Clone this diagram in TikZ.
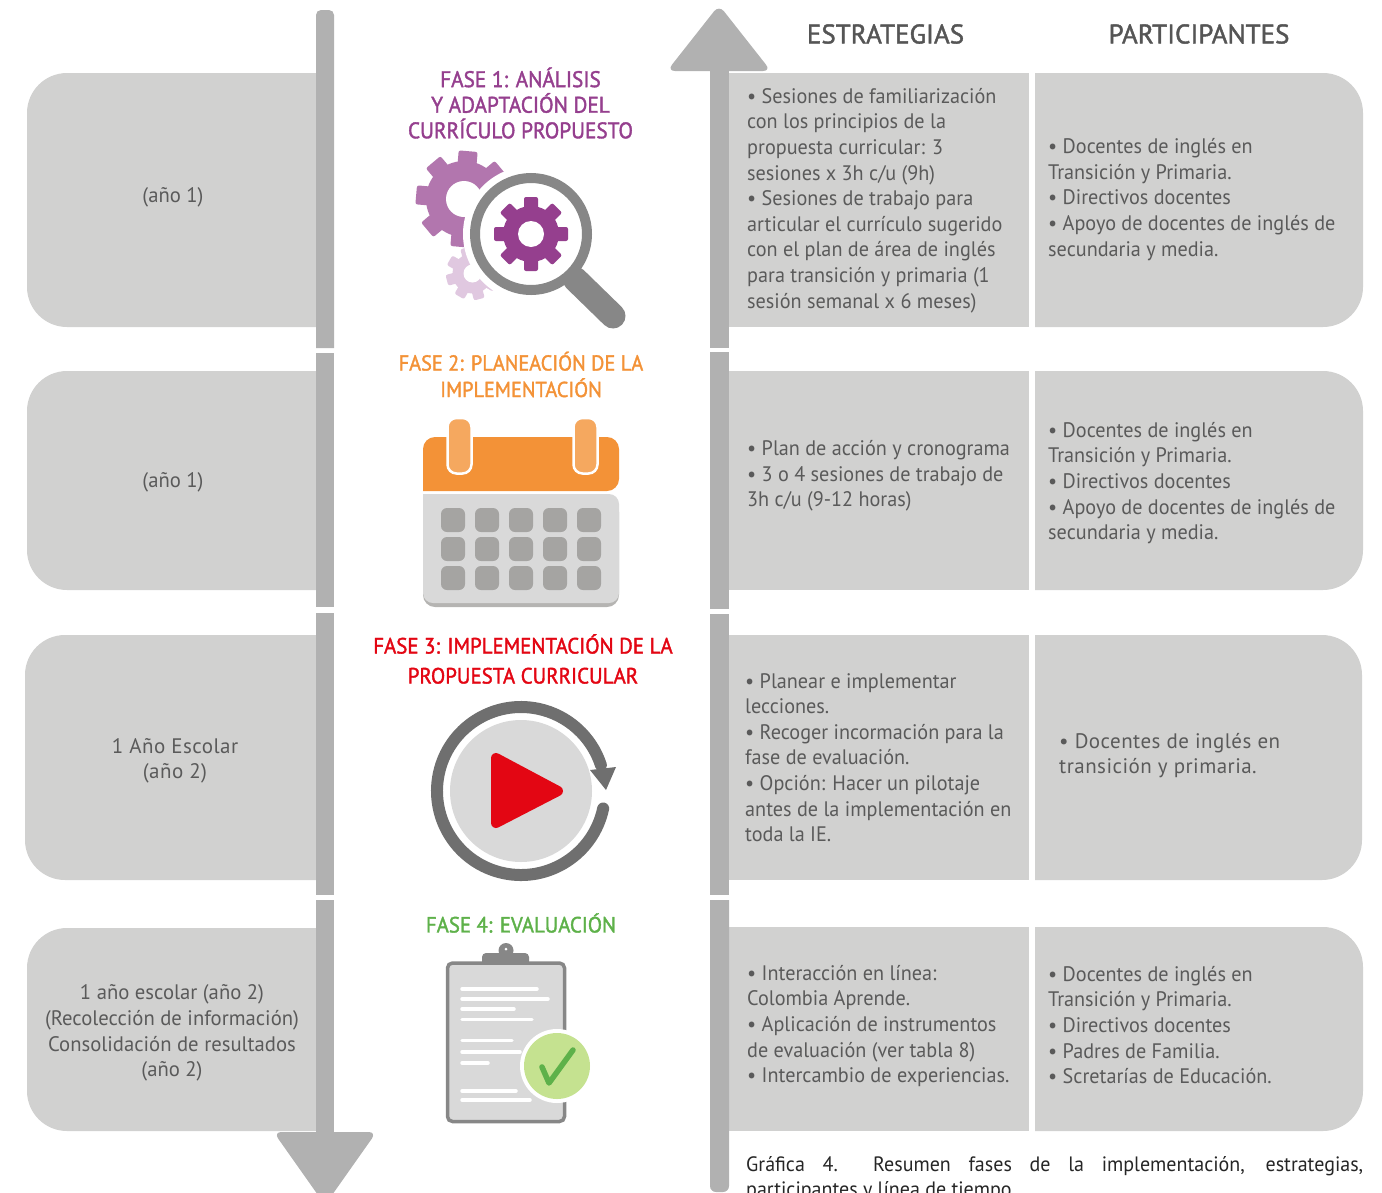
\documentclass[tikz,border=0pt]{standalone}
\usepackage{fontspec}
\setmainfont[FakeStretch=0.962]{PT Sans}
\newfontfamily\labelfont[FakeStretch=0.985]{PT Sans}
\newfontfamily\spacedfont[LetterSpace=2.2]{PT Sans}
\newfontfamily\phasefont[FakeStretch=0.94,FakeBold=1.6]{PT Sans}
\newfontfamily\headfont[FakeBold=1.6]{PT Sans}
\definecolor{boxgray}{HTML}{D1D1D0}
\definecolor{bargray}{HTML}{B1B1B1}
\definecolor{txtgray}{HTML}{5A5A5A}
\definecolor{headgray}{HTML}{555555}
\definecolor{purpleA}{HTML}{953F8E}
\definecolor{purpleB}{HTML}{B276AE}
\definecolor{purpleC}{HTML}{E0C8E0}
\definecolor{orangeA}{HTML}{F39237}
\definecolor{orangeB}{HTML}{F5A85F}
\definecolor{redA}{HTML}{E30613}
\definecolor{greenA}{HTML}{5EB14A}
\definecolor{greenB}{HTML}{C5E290}
\definecolor{iconlight}{HTML}{D9D9D9}
\definecolor{icondark}{HTML}{878787}
\definecolor{ringdark}{HTML}{6F6F6F}
\definecolor{cellgray}{HTML}{A5A4A2}
\tikzset{
  body/.style={text=txtgray,font=\fontsize{21}{25.6}\selectfont,align=left,anchor=west,inner sep=0pt},
  labeltext/.style={text=txtgray,font=\labelfont\fontsize{21}{25.6}\selectfont,align=center,inner sep=0pt},
  phase/.style={align=center,inner sep=0pt},
  colhead/.style={text=headgray,font=\headfont\fontsize{27}{30}\selectfont,inner sep=0pt},
  cornerbox/.style={fill=boxgray},
}
\newcommand{\gearicon}[8]{% cx cy body tip toothw hole colour rot
  \fill[#7] (#1,#2) circle[radius=#3];
  \foreach \ga in {0,45,...,315}{
    \fill[#7,rounded corners=2pt,rotate around={\ga+#8:(#1,#2)}]
      ({#1-#5/2},#2) -- ({#1-#5/2},{#2-#4}) -- ({#1+#5/2},{#2-#4}) -- ({#1+#5/2},#2) -- cycle;
  }
  \fill[white] (#1,#2) circle[radius=#6];
}
\begin{document}
\begin{tikzpicture}[x=1pt,y=-1pt]
\useasboundingbox (0,0) rectangle (1382,1192);
% left boxes
\fill[cornerbox] (320,73) [rounded corners=40pt] -- (27,73) -- (27,327) [sharp corners] -- (320,327) -- cycle;
\fill[cornerbox] (320,371) [rounded corners=40pt] -- (27,371) -- (27,590) [sharp corners] -- (320,590) -- cycle;
\fill[cornerbox] (320,635) [rounded corners=40pt] -- (25,635) -- (25,880) [sharp corners] -- (320,880) -- cycle;
\fill[cornerbox] (320,928) [rounded corners=40pt] -- (27,928) -- (27,1131) [sharp corners] -- (320,1131) -- cycle;
% strategy boxes
\fill[cornerbox] (725,73) rectangle (1029,327);
\fill[cornerbox] (725,371) rectangle (1029,590);
\fill[cornerbox] (725,635) rectangle (1029,880);
\fill[cornerbox] (725,927) rectangle (1029,1131);
% participant boxes
\fill[cornerbox] (1035,73) [rounded corners=40pt] -- (1363,73) -- (1363,327) [sharp corners] -- (1035,327) -- cycle;
\fill[cornerbox] (1035,371) [rounded corners=40pt] -- (1363,371) -- (1363,590) [sharp corners] -- (1035,590) -- cycle;
\fill[cornerbox] (1035,635) [rounded corners=40pt] -- (1362,635) -- (1362,880) [sharp corners] -- (1035,880) -- cycle;
\fill[cornerbox] (1035,927) [rounded corners=40pt] -- (1363,927) -- (1363,1131) [sharp corners] -- (1035,1131) -- cycle;
% left bar
\fill[bargray,rounded corners=5pt] (316,20) -- (316,10) -- (334,10) -- (334,20) [sharp corners] -- (334,348) -- (316,348) -- cycle;
\fill[bargray] (316,353) rectangle (334,607);
\fill[bargray] (316,613) rectangle (334,895);
\fill[bargray] (316,900) rectangle (334,1140);
\fill[bargray,rounded corners=8pt] (273.5,1132) -- (376.5,1132) -- (325,1205) -- cycle;
% right bar
\fill[bargray,rounded corners=8pt] (719,5) -- (771,71) -- (667,71) -- cycle;
\fill[bargray] (710,65) rectangle (729,348);
\fill[bargray] (710,352) rectangle (729,609);
\fill[bargray] (710,614) rectangle (729,895);
\fill[bargray,rounded corners=6pt] (710,900) -- (710,1192) -- (729,1192) [sharp corners] -- (729,900) -- cycle;
% column headers
\node[colhead] (h1) at (885.5,34) {ESTRATEGIAS};
\node[colhead] (h2) at (1199,34) {PARTICIPANTES};
% left labels
\node[labeltext] (l1) at (173,197) {(año 1)};
\node[labeltext] (l2) at (173,482) {(año 1)};
\node[labeltext,font=\spacedfont\fontsize{21}{25.6}\selectfont] (l3) at (175,761) {1 Año Escolar\\(año 2)};
\node[labeltext] (l4) at (172,1033) {1 año escolar (año 2)\\(Recolección de información)\\Consolidación de resultados\\(año 2)};
% phase titles
\node[phase,text=purpleA,font=\phasefont\fontsize{22.6}{25.6}\selectfont] (p1) at (520.5,103) {FASE 1: ANÁLISIS\\Y ADAPTACIÓN DEL\\CURRÍCULO PROPUESTO};
\node[phase,text=orangeA,font=\phasefont\fontsize{21.6}{26.5}\selectfont] (p2) at (521,374.5) {FASE 2: PLANEACIÓN DE LA\\IMPLEMENTACIÓN};
\node[phase,text=redA,font=\phasefont\fontsize{22.2}{30}\selectfont] (p3) at (523,659) {FASE 3: IMPLEMENTACIÓN DE LA\\PROPUESTA CURRICULAR};
\node[phase,text=greenA,font=\phasefont\fontsize{22.1}{26}\selectfont] (p4) at (521,923) {FASE 4: EVALUACIÓN};
% strategies
\node[body] (s1) at (747,200.5) {• Sesiones de familiarización\\con los principios de la\\propuesta curricular: 3\\sesiones x 3h c/u (9h)\\• Sesiones de trabajo para\\articular el currículo sugerido\\con el plan de área de inglés\\para transición y primaria (1\\sesión semanal x 6 meses)};
\node[body] (s2) at (747,476) {• Plan de acción y cronograma\\• 3 o 4 sesiones de trabajo de\\3h c/u (9-12 horas)};
\node[body] (s3) at (745,757.5) {• Planear e implementar\\lecciones.\\• Recoger incormación para la\\fase de evaluación.\\• Opción: Hacer un pilotaje\\antes de la implementación en\\toda la IE.};
\node[body] (s4) at (747,1026) {• Interacción en línea:\\Colombia Aprende.\\• Aplicación de instrumentos\\de evaluación (ver tabla 8)\\• Intercambio de experiencias.};
% participants
\node[body] (r1) at (1048,199.5) {• Docentes de inglés en\\Transición y Primaria.\\• Directivos docentes\\• Apoyo de docentes de inglés de\\secundaria y media.};
\node[body] (r2) at (1048,483) {• Docentes de inglés en\\Transición y Primaria.\\• Directivos docentes\\• Apoyo de docentes de inglés de\\secundaria y media.};
\node[body,font=\spacedfont\fontsize{21}{25.6}\selectfont] (r3) at (1059,755.5) {• Docentes de inglés en\\transición y primaria.};
\node[body] (r4) at (1048,1025) {• Docentes de inglés en\\Transición y Primaria.\\• Directivos docentes\\• Padres de Familia.\\• Scretarías de Educación.};
% caption
\node[inner sep=0pt,anchor=north west,align=left,text=black!85,font=\fontsize{20.8}{25}\selectfont] (cap) at (746,1156) {\makebox[617pt][s]{Gráfica 4.\ \ Resumen fases de la implementación, estrategias,}\\participantes y línea de tiempo};
% ---- icon 1
\gearicon{464}{199}{38}{48}{19}{18}{purpleB}{-5}
\gearicon{472.5}{273.5}{20}{26.5}{11}{9}{purpleC}{15}
\fill[white] (531,234) circle[radius=68];
\draw[icondark,line width=25pt,line cap=round] (575,279) -- (613,316);
\fill[white] (531,234) circle[radius=56];
\draw[icondark,line width=10pt] (531,234) circle[radius=56];
\gearicon{531}{234}{28}{37}{14}{13}{purpleA}{0}
% ---- icon 2
\fill[cellgray!70!iconlight,rounded corners=12pt] (423,500) -- (423,607) -- (619,607) -- (619,500) -- cycle;
\fill[iconlight,rounded corners=10pt] (423,494) -- (423,603) -- (619,603) -- (619,494) [sharp corners] -- cycle;
\fill[orangeA,rounded corners=12pt] (423,491) -- (423,437) -- (619,437) -- (619,491) [sharp corners] -- cycle;
\foreach \cx in {459.5,585.5}{
  \fill[orangeB,draw=white,line width=2.5pt,rounded corners=9pt] ({\cx-12},418) rectangle ({\cx+12},473.5);
}
\foreach \cx in {453,487,521,555,589}{\foreach \cy in {520,549,578}{
  \fill[cellgray,rounded corners=6pt] ({\cx-12},{\cy-12}) rectangle ({\cx+12},{\cy+12});
}}
% ---- icon 3
\fill[iconlight] (521,791) circle[radius=71];
\draw[ringdark,line width=12pt,line cap=round] (521,791) ++(12:84) arc[start angle=12,end angle=342,radius=84];
\fill[ringdark] (590,770) -- (616,767) -- (606,790) -- cycle;
\fill[redA,draw=redA,line width=10pt,line join=round] (496,758) -- (558,791) -- (496,823) -- cycle;
% ---- icon 4
\fill[icondark] (482,962) [rounded corners=4pt] -- (482,953) -- (529,953) [sharp corners] -- (529,962) -- cycle;
\fill[icondark] (506,950.5) circle[radius=7.5];
\fill[white] (506,949) circle[radius=1.5];
\fill[iconlight,draw=icondark,line width=3.5pt,rounded corners=5pt] (447.5,963) rectangle (564.5,1121.5);
\foreach \ly/\lx in {989/537,999/548,1009/514,1019.3/532,1040.7/512,1052/520,1063/488,1091/516,1100/530}{
  \draw[white,line width=3.5pt,line cap=round] (462,\ly) -- (\lx,\ly);
}
\fill[white] (557,1066) circle[radius=37];
\fill[greenB] (557,1066) circle[radius=33];
\draw[greenA,line width=5.5pt,line cap=round,line join=round] (542,1067) -- (549,1083) -- (573,1050);
\end{tikzpicture}
\end{document}
